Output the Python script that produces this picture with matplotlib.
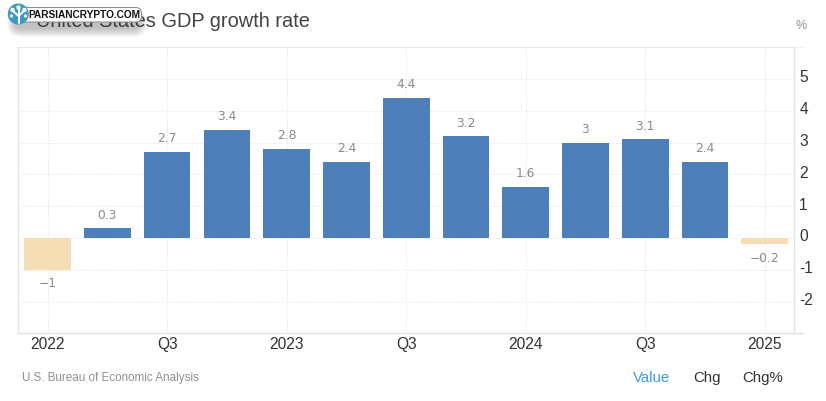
import numpy as np
import matplotlib
matplotlib.use("Agg")
import matplotlib.pyplot as plt
from matplotlib.patches import FancyBboxPatch, Circle
from matplotlib.transforms import ScaledTranslation

plt.rc('font', family=['Liberation Sans', 'DejaVu Sans'])

W, H = 826, 401

values = [-1, 0.3, 2.7, 3.4, 2.8, 2.4, 4.4, 3.2, 1.6, 3, 3.1, 2.4, -0.2]
value_labels = ["-1", "0.3", "2.7", "3.4", "2.8", "2.4", "4.4", "3.2", "1.6", "3", "3.1", "2.4", "-0.2"]
tick_labels = ["2022", "Q3", "2023", "Q3", "2024", "Q3", "2025"]
y_ticks = [-2, -1, 0, 1, 2, 3, 4, 5]

BLUE = "#4d80bb"
SAND = "#f5deb3"
GRID = "#e2e2e2"
AXIS = "#e3e3e3"
TEXT = "#333333"
DOTS = (0, (1, 1.5))

fig = plt.figure(figsize=(W / 100, H / 100), dpi=100, facecolor="white")
ax = fig.add_axes([17.5 / W, 1 - 333 / H, (794 - 17.5) / W, (333 - 46.5) / H])

x = np.arange(len(values))
colors = [BLUE if v >= 0 else SAND for v in values]
ax.bar(x, values, width=0.78, color=colors, zorder=3)

ax.set_xlim(-0.505, 12.49)
ax.set_ylim(-2.987, 6.02)

ax.set_xticks(x[::2])
ax.set_xticklabels(tick_labels, fontsize=11.2, color=TEXT)
ax.yaxis.tick_right()
ax.set_yticks(y_ticks)
ax.set_yticklabels([str(t) for t in y_ticks], fontsize=11.2, color=TEXT)
ax.tick_params(axis='both', length=0)
ax.tick_params(axis='x', pad=3)
ax.tick_params(axis='y', pad=3.8)

# y labels sit slightly above their gridlines
for lab in ax.get_yticklabels():
    lab.set_transform(lab.get_transform() + ScaledTranslation(0, 2.5 / 100, fig.dpi_scale_trans))

ax.grid(True, color=GRID, linestyle=DOTS, linewidth=0.72, zorder=0)
ax.set_axisbelow(True)

for name in ['left', 'right', 'bottom']:
    ax.spines[name].set_color(AXIS)
    ax.spines[name].set_linewidth(1.0)
ax.spines['top'].set_color(GRID)
ax.spines['top'].set_linestyle(DOTS)
ax.spines['top'].set_linewidth(0.72)

# value labels above / below the bars
for xi, v, lab in zip(x, values, value_labels):
    ax.annotate(lab.replace("-", "\u2212"), (xi, v), xytext=(0, 4.8 if v >= 0 else -5.3),
                textcoords='offset points', ha='center', va='bottom' if v >= 0 else 'top',
                fontsize=8.8, color="#8a8a8a", zorder=4, family=['DejaVu Sans'])


def fx(px):
    return px / W


def fy(py):
    return 1 - py / H


# extensions of the top and bottom lines past the right axis
fig.add_artist(plt.Line2D([fx(794), fx(803)], [fy(333), fy(333)], color=AXIS, lw=1.0))
fig.add_artist(plt.Line2D([fx(794), fx(803)], [fy(46.5), fy(46.5)], color=GRID, lw=0.72, ls=DOTS))

# header and footer texts
fig.text(fx(36), fy(21.5), "United States GDP growth rate", fontsize=14.4, color="#444444",
         ha='left', va='center')
fig.text(fx(801), fy(26), "%", fontsize=9, color="#8a9099", ha='center', va='center')
fig.text(fx(22), fy(377.5), "U.S. Bureau of Economic Analysis", fontsize=8.4, color="#8f8f8f",
         ha='left', va='center')
fig.text(fx(651.5), fy(378), "Value", fontsize=10.8, color="#3d9be9", ha='center', va='center')
fig.text(fx(707), fy(378), "Chg", fontsize=10.8, color=TEXT, ha='center', va='center')
fig.text(fx(763), fy(378), "Chg%", fontsize=10.8, color=TEXT, ha='center', va='center')

# watermark pill with soft shadow, on a full-figure overlay in pixel coordinates
ov = fig.add_axes([0, 0, 1, 1], zorder=10)
ov.set_xlim(0, W)
ov.set_ylim(H, 0)
ov.axis('off')
ov.patch.set_alpha(0)

for grow in np.arange(9, 0, -1):
    ov.add_patch(FancyBboxPatch((16 - grow, 14 - grow + 4), 122 + 2 * grow, 10 + 2 * grow,
                                boxstyle="round,pad=0,rounding_size=%g" % (5 + grow),
                                fc="#303030", ec="none", alpha=0.035))
ov.add_patch(FancyBboxPatch((20, 7.5), 121.5, 14.5, boxstyle="round,pad=0,rounding_size=6",
                            fc="white", ec="#8a8a8a", lw=0.7))
ov.text(84.5, 15, "PARSIANCRYPTO.COM", fontsize=7.3, fontweight='bold', color="#111111",
        ha='center', va='center')
ov.add_patch(Circle((18.3, 14), 10.5, fc="#3d9ac7", ec="none"))
# little tree in the logo
for x0, y0, x1, y1 in [(18.5, 23, 18.5, 14), (18.5, 16, 13, 11), (18.5, 16, 24, 11), (18.5, 14, 18.5, 8)]:
    ov.plot([x0, x1], [y0, y1], color="white", lw=1.4, solid_capstyle='round')
for cx, cy, r in [(12.5, 10, 2.2), (24.5, 10, 2.2), (18.5, 7.5, 2.2), (11.5, 16, 1.6), (25.5, 16, 1.6)]:
    ov.add_patch(Circle((cx, cy), r, fc="white", ec="none"))

fig.savefig("out.png", dpi=100)
